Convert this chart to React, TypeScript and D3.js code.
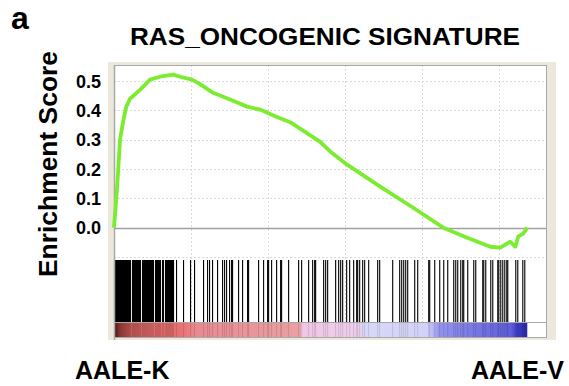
import React, { useEffect, useRef } from "react";
import * as d3 from "d3";

// running enrichment score (rank in ordered list, ES)
const esRanks = [0, 156, 312, 468, 624, 832, 1352, 1872, 2392, 3068, 3432, 4056, 4472, 5148, 6032, 6916, 7592, 8372, 9152, 9932, 10712, 11232, 12116, 13832, 15548, 17108, 18356, 19552, 20072, 20592, 20852, 21008, 21268, 21476];
const esValues = [0, 0.13, 0.3, 0.36, 0.41, 0.44, 0.47, 0.505, 0.515, 0.522, 0.515, 0.505, 0.49, 0.46, 0.437, 0.413, 0.403, 0.38, 0.36, 0.327, 0.293, 0.26, 0.215, 0.14, 0.068, 0, -0.034, -0.065, -0.068, -0.048, -0.065, -0.03, -0.02, 0];

// ranks of the gene set members (the barcode)
const hitRanks = [
  0, 52, 104, 156, 208, 260, 312, 364, 416, 468, 520, 572, 624, 676, 728, 780, 832, 936, 988, 1040, 1092, 1144, 1196, 1248, 1300, 1352,
  1456, 1508, 1560, 1612, 1664, 1716, 1768, 1820, 1872, 1924, 1976, 2028, 2132, 2184, 2236, 2288, 2340, 2392, 2496, 2548, 2652, 2704,
  2756, 2808, 2860, 2912, 2964, 3016, 3068, 3224, 3588, 3952, 4160, 4628, 4836, 4940, 5096, 5356,
  5616, 5720, 5824, 5980, 6084, 6136, 6448, 6656, 6916, 6968, 7488, 7748, 7956, 8008, 8164, 8424, 8632, 8684, 9048, 9568, 9724, 10088,
  10296, 10400, 10452,
  10868, 10972, 11076, 11492, 11648, 11752, 11856, 12064, 12220, 12428, 12584, 12636, 12740, 12896, 13000, 13208, 13676, 13780, 14456,
  14820, 14924, 15028, 15132, 15236, 15600, 15756, 16328,
  16380, 16640, 16900, 17108, 17316, 17628, 17732, 17836, 17992, 18096, 18148, 18356, 18668, 18772, 19136, 19188, 19292, 19552, 19656,
  19916, 19968, 20072, 20176, 20280, 20384, 20436, 20852, 20956, 21216, 21320,
];

// ranked list metric colour bar (rank, colour)
const barRanks = [0, 300, 900, 2000, 3500, 4300, 9700, 9710, 12900, 12910, 16300, 16900, 19000, 20600, 21000, 21476];
const barColors = ["#4a1414", "#9a3c3c", "#c85a5a", "#e06a6a", "#e87272", "#e88a92", "#eaa0a2", "#f0c6e4", "#ecd0ee", "#d8d8f8", "#d2d2f8", "#9494ee", "#7474e4", "#6060dc", "#3a3ac4", "#2a2aa8"];

const yTicks = [0, 0.1, 0.2, 0.3, 0.4, 0.5];
const xGrid = [4000, 8000, 12000, 16000, 20000];

const title = "RAS_ONCOGENIC SIGNATURE";
const yTitle = "Enrichment Score";
const leftLabel = "AALE-K";
const rightLabel = "AALE-V";

const FONT = "'Liberation Sans', Arial, Helvetica, sans-serif";

const App = () => {
  const svgRef = useRef<SVGSVGElement>(null);

  useEffect(() => {
    const svg = d3.select(svgRef.current);
    svg.selectAll("*").remove();

    const left = 114, right = 547;
    const top = 65, esBottom = 257, hitTop = 260, barTop = 322, bottom = 338;

    const x = d3.scaleLinear().domain([0, 22500]).range([left, right]);
    const y = d3.scaleLinear().domain([-0.1, 0.555]).range([esBottom, top]);

    //beige frame + white plot
    svg.append("rect").attr("x", 108).attr("y", 62).attr("width", 448).attr("height", 278).attr("fill", "#ece9dc");
    svg.append("rect").attr("x", left).attr("y", top).attr("width", right - left).attr("height", bottom - top).attr("fill", "#fff");

    //grid
    const grid = svg.append("g").attr("stroke", "#d9d9d9").attr("stroke-dasharray", "2,2").attr("stroke-width", 1);
    grid.selectAll("line.v").data(xGrid).enter().append("line")
      .attr("x1", (d) => Math.round(x(d)) + 0.5).attr("x2", (d) => Math.round(x(d)) + 0.5)
      .attr("y1", top).attr("y2", bottom);
    grid.selectAll("line.h").data(yTicks.filter((d) => d !== 0).concat([-0.1])).enter().append("line")
      .attr("x1", left).attr("x2", right)
      .attr("y1", (d) => Math.round(y(d)) + 0.5).attr("y2", (d) => Math.round(y(d)) + 0.5);

    //zero line
    svg.append("line").attr("x1", left).attr("x2", right)
      .attr("y1", Math.round(y(0)) + 0.5).attr("y2", Math.round(y(0)) + 0.5)
      .attr("stroke", "#a0a0a0").attr("stroke-width", 1.5);

    //colour bar
    const grad = svg.append("defs").append("linearGradient").attr("id", "rankbar")
      .attr("gradientUnits", "userSpaceOnUse")
      .attr("x1", x(0)).attr("x2", x(barRanks[barRanks.length - 1])).attr("y1", 0).attr("y2", 0);
    const r0 = barRanks[barRanks.length - 1];
    barRanks.forEach((r, i) => {
      grad.append("stop").attr("offset", r / r0).attr("stop-color", barColors[i]);
    });
    svg.append("rect").attr("x", x(0)).attr("y", barTop).attr("width", x(r0) - x(0)).attr("height", bottom - barTop)
      .attr("fill", "url(#rankbar)");
    svg.append("g").selectAll("line").data(hitRanks).enter().append("line")
      .attr("x1", (d) => x(d) + 0.5).attr("x2", (d) => x(d) + 0.5)
      .attr("y1", barTop).attr("y2", bottom)
      .attr("stroke", "#000").attr("stroke-opacity", 0.12);

    //hits
    svg.append("g").selectAll("line").data(hitRanks).enter().append("line")
      .attr("x1", (d) => x(d) + 0.5).attr("x2", (d) => x(d) + 0.5)
      .attr("y1", hitTop).attr("y2", barTop)
      .attr("stroke", "#000").attr("stroke-width", 1.1);

    //borders
    const border = svg.append("g").attr("stroke", "#a8a8a8").attr("fill", "none");
    border.append("rect").attr("x", left + 0.5).attr("y", top + 0.5).attr("width", right - left - 1).attr("height", bottom - top - 1);
    border.append("line").attr("x1", left).attr("x2", right).attr("y1", barTop + 0.5).attr("y2", barTop + 0.5);
    border.append("line").attr("x1", left + 0.5).attr("x2", left + 0.5).attr("y1", top).attr("y2", bottom + 2).attr("stroke-width", 1.5);

    //running ES line
    const esData = esRanks.map((r, i) => ({ r, v: esValues[i] }));
    svg.append("path").datum(esData)
      .attr("fill", "none").attr("stroke", "#7cec30").attr("stroke-width", 3.8).attr("stroke-linejoin", "round")
      .attr("d", d3.line<{ r: number; v: number }>().x((d) => x(d.r)).y((d) => y(d.v)));

    //y tick labels
    svg.append("g").selectAll("text").data(yTicks).enter().append("text")
      .attr("x", 101).attr("y", (d) => y(d)).attr("dy", "0.36em")
      .attr("text-anchor", "end").attr("font-family", FONT).attr("font-weight", "bold").attr("font-size", 18)
      .text((d) => d3.format(".1f")(d));

    //y-axis title
    svg.append("text")
      .attr("transform", "translate(57,164) rotate(-90)")
      .attr("text-anchor", "middle").attr("font-family", FONT).attr("font-weight", "bold").attr("font-size", 25)
      .attr("textLength", 226).attr("lengthAdjust", "spacingAndGlyphs")
      .text(yTitle);

    //title
    svg.append("text").attr("x", 325).attr("y", 45).attr("text-anchor", "middle")
      .attr("font-family", FONT).attr("font-weight", "bold").attr("font-size", 24)
      .attr("textLength", 390).attr("lengthAdjust", "spacingAndGlyphs")
      .text(title);

    //panel letter
    svg.append("text").attr("x", 11).attr("y", 29)
      .attr("font-family", FONT).attr("font-weight", "bold").attr("font-size", 32).text("a");

    //phenotype labels
    svg.append("text").attr("x", 75).attr("y", 379)
      .attr("font-family", FONT).attr("font-weight", "bold").attr("font-size", 25).text(leftLabel);
    svg.append("text").attr("x", 564).attr("y", 379).attr("text-anchor", "end")
      .attr("font-family", FONT).attr("font-weight", "bold").attr("font-size", 25).text(rightLabel);
  }, []);

  return (
    <svg
      ref={svgRef}
      width={569}
      height={386}
      style={{ position: "absolute", left: 0, top: 0, background: "#fff" }}
    />
  );
};

export default App;
